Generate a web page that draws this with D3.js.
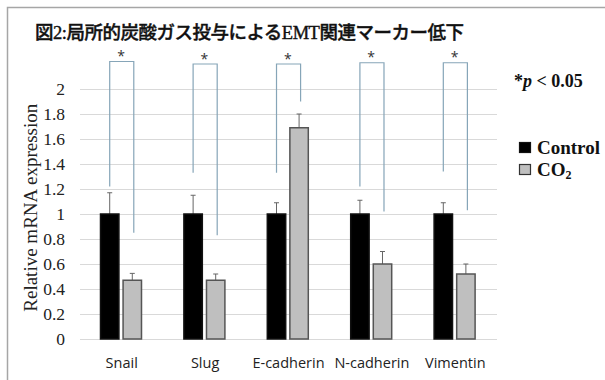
<!DOCTYPE html>
<html>
<head>
<meta charset="utf-8">
<script src="https://cdn.jsdelivr.net/npm/d3@7/dist/d3.min.js"></script>
<style>
  html, body { margin: 0; padding: 0; background: #fff; }
  svg { display: block; }
</style>
</head>
<body>
<svg id="chart" width="605" height="380"></svg>
<script>
// Relative mRNA expression of EMT markers, control vs CO2
const categories = ["Snail", "Slug", "E-cadherin", "N-cadherin", "Vimentin"];
const series = ["Control", "CO2"];
const controlValues = [1, 1, 1, 1, 1];
const co2Values = [0.47, 0.47, 1.69, 0.60, 0.52];
const controlErrors = [0.17, 0.15, 0.09, 0.11, 0.09];
const co2Errors = [0.055, 0.05, 0.11, 0.10, 0.08];
// significance brackets: top level, lower end over Control, lower end over CO2
const bracketTop = [2.22, 2.20, 2.20, 2.21, 2.21];
const bracketLeftEnd = [1.22, 1.33, 1.33, 1.22, 1.34];
const bracketRightEnd = [0.85, 0.83, 1.90, 1.02, 1.03];
const yTicks = [0, 0.2, 0.4, 0.6, 0.8, 1, 1.2, 1.4, 1.6, 1.8, 2];
const titleText = "図2:局所的炭酸ガス投与によるEMT関連マーカー低下";

const svg = d3.select("#chart");
const serif = "'Liberation Serif', 'Times New Roman', serif";
const sans = "'Open Sans', 'Noto Sans', sans-serif";

// outer frame
svg.append("rect")
  .attr("x", 7.5).attr("y", 7.5)
  .attr("width", 620).attr("height", 400)
  .attr("fill", "none").attr("stroke", "#a6a6a6").attr("stroke-width", 1.5);

// title
svg.append("text")
  .attr("x", 35).attr("y", 39)
  .attr("font-family", "'Liberation Serif', 'Noto Sans CJK JP', serif")
  .attr("font-size", 18.5)
  .attr("font-weight", 500)
  .attr("letter-spacing", -0.5)
  .attr("fill", "#111")
  .attr("stroke", "#111")
  .attr("stroke-width", 0.4)
  .text(titleText);

const plot = { left: 80, right: 497, top: 89, bottom: 339 };

const x0 = d3.scaleBand().domain(categories).range([plot.left, plot.right]);
const x1 = d3.scaleBand().domain(series).range([20, 62]).paddingInner(0.14);
const y = d3.scaleLinear().domain([0, 2]).range([plot.bottom, plot.top]);

// gridlines
svg.append("g")
  .selectAll("line")
  .data(yTicks)
  .join("line")
  .attr("x1", plot.left).attr("x2", plot.right)
  .attr("y1", d => y(d) + 0.5).attr("y2", d => y(d) + 0.5)
  .attr("stroke", "#d9d9d9").attr("stroke-width", 1);

// y axis tick labels
const yAxis = d3.axisLeft(y).tickValues(yTicks).tickSize(0).tickPadding(0)
  .tickFormat(d => String(d));
const yg = svg.append("g").attr("transform", `translate(65,0)`).call(yAxis);
yg.select(".domain").remove();
yg.attr("font-family", serif).attr("font-size", 17.5);
yg.selectAll("text")
  .attr("fill", "#222")
  .attr("dy", "0.34em");

// y axis title
svg.append("text")
  .attr("transform", `translate(37,${y(1.05)}) rotate(-90)`)
  .attr("text-anchor", "middle")
  .attr("font-family", serif).attr("font-size", 19).attr("fill", "#222")
  .text("Relative mRNA expression");

// x axis labels
const xAxis = d3.axisBottom(x0).tickSize(0).tickPadding(0);
const xg = svg.append("g").attr("transform", `translate(0,${plot.bottom})`).call(xAxis);
xg.select(".domain").remove();
xg.attr("font-family", sans).attr("font-size", 14.5);
xg.selectAll("text")
  .attr("fill", "#222")
  .attr("dy", "0").attr("y", 29);

const rows = categories.map((c, i) => ({
  cat: c,
  bars: [
    { s: "Control", v: controlValues[i], e: controlErrors[i] },
    { s: "CO2", v: co2Values[i], e: co2Errors[i] }
  ],
  top: bracketTop[i], l: bracketLeftEnd[i], r: bracketRightEnd[i]
}));

const groups = svg.append("g").selectAll("g")
  .data(rows).join("g")
  .attr("transform", d => `translate(${x0(d.cat)},0)`);

// error bars (upper only)
groups.selectAll("g.err")
  .data(d => d.bars).join("g").attr("class", "err")
  .each(function (d) {
    const cx = x1(d.s) + x1.bandwidth() / 2;
    const g = d3.select(this);
    g.append("line")
      .attr("x1", cx).attr("x2", cx)
      .attr("y1", y(d.v)).attr("y2", y(d.v + d.e))
      .attr("stroke", "#666").attr("stroke-width", 1);
    g.append("line")
      .attr("x1", cx - 2.5).attr("x2", cx + 2.5)
      .attr("y1", y(d.v + d.e)).attr("y2", y(d.v + d.e))
      .attr("stroke", "#666").attr("stroke-width", 1);
  });

// bars
groups.selectAll("rect")
  .data(d => d.bars).join("rect")
  .attr("x", d => x1(d.s) + 0.5)
  .attr("y", d => y(d.v))
  .attr("width", x1.bandwidth() - 1)
  .attr("height", d => y(0) - y(d.v))
  .attr("fill", d => d.s === "Control" ? "#000" : "#bfbfbf")
  .attr("stroke", d => d.s === "Control" ? "#111" : "#555")
  .attr("stroke-width", 1.5);

// significance brackets
groups.append("path")
  .attr("d", d => {
    const lx = x1("Control") + x1.bandwidth() / 2;
    const rx = x1("CO2") + x1.bandwidth() / 2 + 1.5;
    return `M${lx},${y(d.l)}V${y(d.top)}H${rx}V${y(d.r)}`;
  })
  .attr("fill", "none").attr("stroke", "#86a5b8").attr("stroke-width", 1.2);

groups.append("text")
  .attr("x", (x1("Control") + x1("CO2") + x1.bandwidth()) / 2)
  .attr("y", d => y(d.top) - 0.5)
  .attr("text-anchor", "middle")
  .attr("font-family", sans).attr("font-size", 14).attr("fill", "#333")
  .text("*");

// significance note
const note = svg.append("text")
  .attr("x", 514).attr("y", 87)
  .attr("font-family", serif).attr("font-size", 18).attr("font-weight", "bold")
  .attr("fill", "#111");
note.append("tspan").text("*");
note.append("tspan").attr("font-style", "italic").text("p");
note.append("tspan").text(" < 0.05");

// legend
const legend = svg.append("g").attr("transform", "translate(519,0)");
const legendRows = [
  { s: series[0], y: 142, fill: "#000", stroke: "#111" },
  { s: series[1], y: 164, fill: "#bfbfbf", stroke: "#333" }
];
legendRows.forEach(r => {
  legend.append("rect")
    .attr("x", 0.5).attr("y", r.y + 0.5).attr("width", 11).attr("height", 10)
    .attr("fill", r.fill).attr("stroke", r.stroke).attr("stroke-width", 1.2);
  const t = legend.append("text")
    .attr("x", 18).attr("y", r.y + 12)
    .attr("font-family", serif).attr("font-size", 19).attr("font-weight", "bold")
    .attr("fill", "#111");
  if (r.s === "CO2") {
    t.append("tspan").text("CO");
    t.append("tspan").attr("font-size", 12).attr("dy", 3).text("2");
  } else {
    t.text(r.s);
  }
});
</script>
</body>
</html>
